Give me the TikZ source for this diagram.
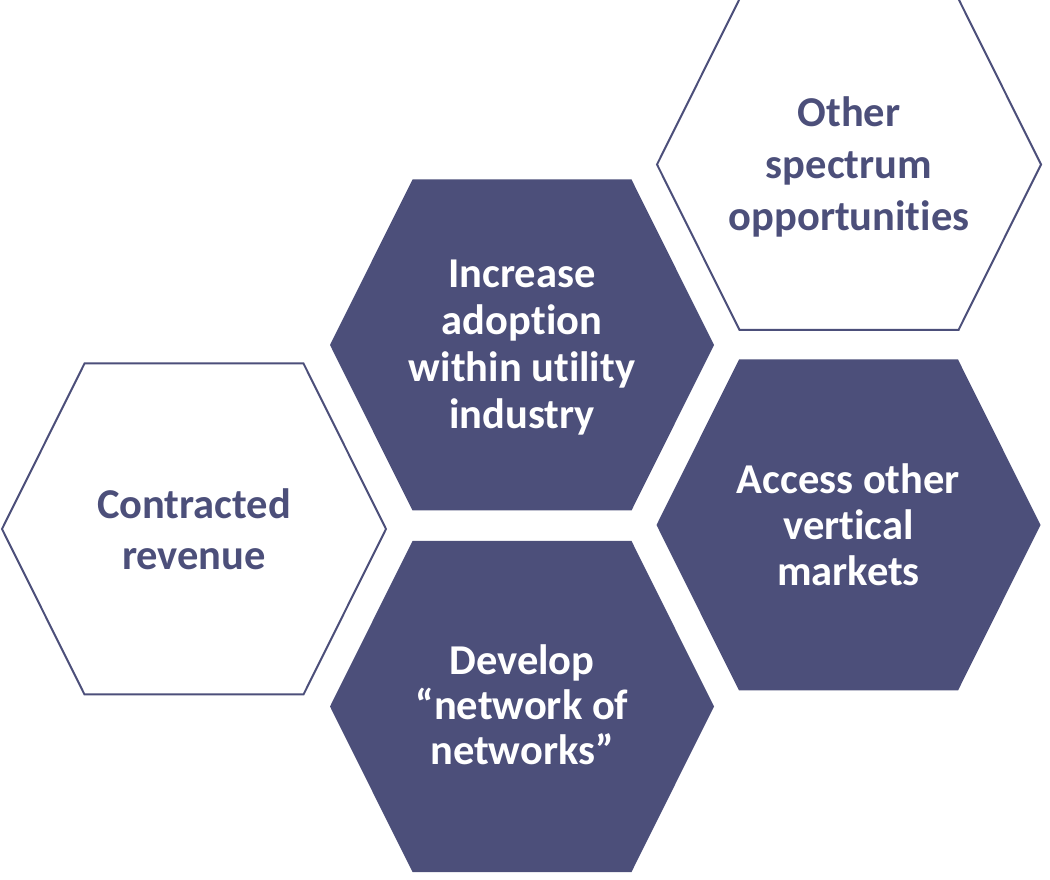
\documentclass[tikz,border=0pt]{standalone}
\usepackage{fontspec}
\setmainfont{Carlito}[Ligatures=NoCommon]
\definecolor{hexblue}{RGB}{76,79,122}
% flat-topped hexagon around a centre point
\newcommand\hexagonat[3]{%
  \path[#3] (#1,#2) ++(-192,0) -- ++(82.5,165.5) -- ++(219,0)
    -- ++(82.5,-165.5) -- ++(-82.5,-165.5) -- ++(-219,0) -- cycle;}
\begin{document}
\begin{tikzpicture}[x=1pt,y=1pt,
  hexfilled/.style={fill=hexblue,draw=none},
  hexoutline/.style={draw=hexblue,line width=2pt,fill=white,line join=miter},
  lbl/.style={align=center,inner sep=0pt,font=\bfseries\fontsize{42.5}{46}\selectfont},
  lightlbl/.style={lbl,text=white},
  darklbl/.style={lbl,text=hexblue}]
\useasboundingbox (0,0) rectangle (1050,879);

\hexagonat{194}{350}{hexoutline}
\hexagonat{522}{534}{hexfilled}
\hexagonat{522}{172.5}{hexfilled}
\hexagonat{849}{714.5}{hexoutline}
\hexagonat{848.5}{354}{hexfilled}

\node[darklbl,font=\bfseries\fontsize{42.5}{51}\selectfont] (revenue) at (194,350) {Contracted\\revenue};
\node[lightlbl,font=\bfseries\fontsize{42.5}{47}\selectfont] (adoption) at (522,531.5) {Increase\\adoption\\within utility\\industry};
\node[lightlbl,font=\bfseries\fontsize{42.5}{45}\selectfont] (networks) at (522,174) {Develop\\“network of\\networks”};
\node[darklbl,font=\bfseries\fontsize{42.5}{52}\selectfont] (spectrum) at (849,712) {Other\\spectrum\\opportunities};
\node[lightlbl] (markets) at (848.5,354) {Access other\\vertical\\markets};
\end{tikzpicture}
\end{document}
